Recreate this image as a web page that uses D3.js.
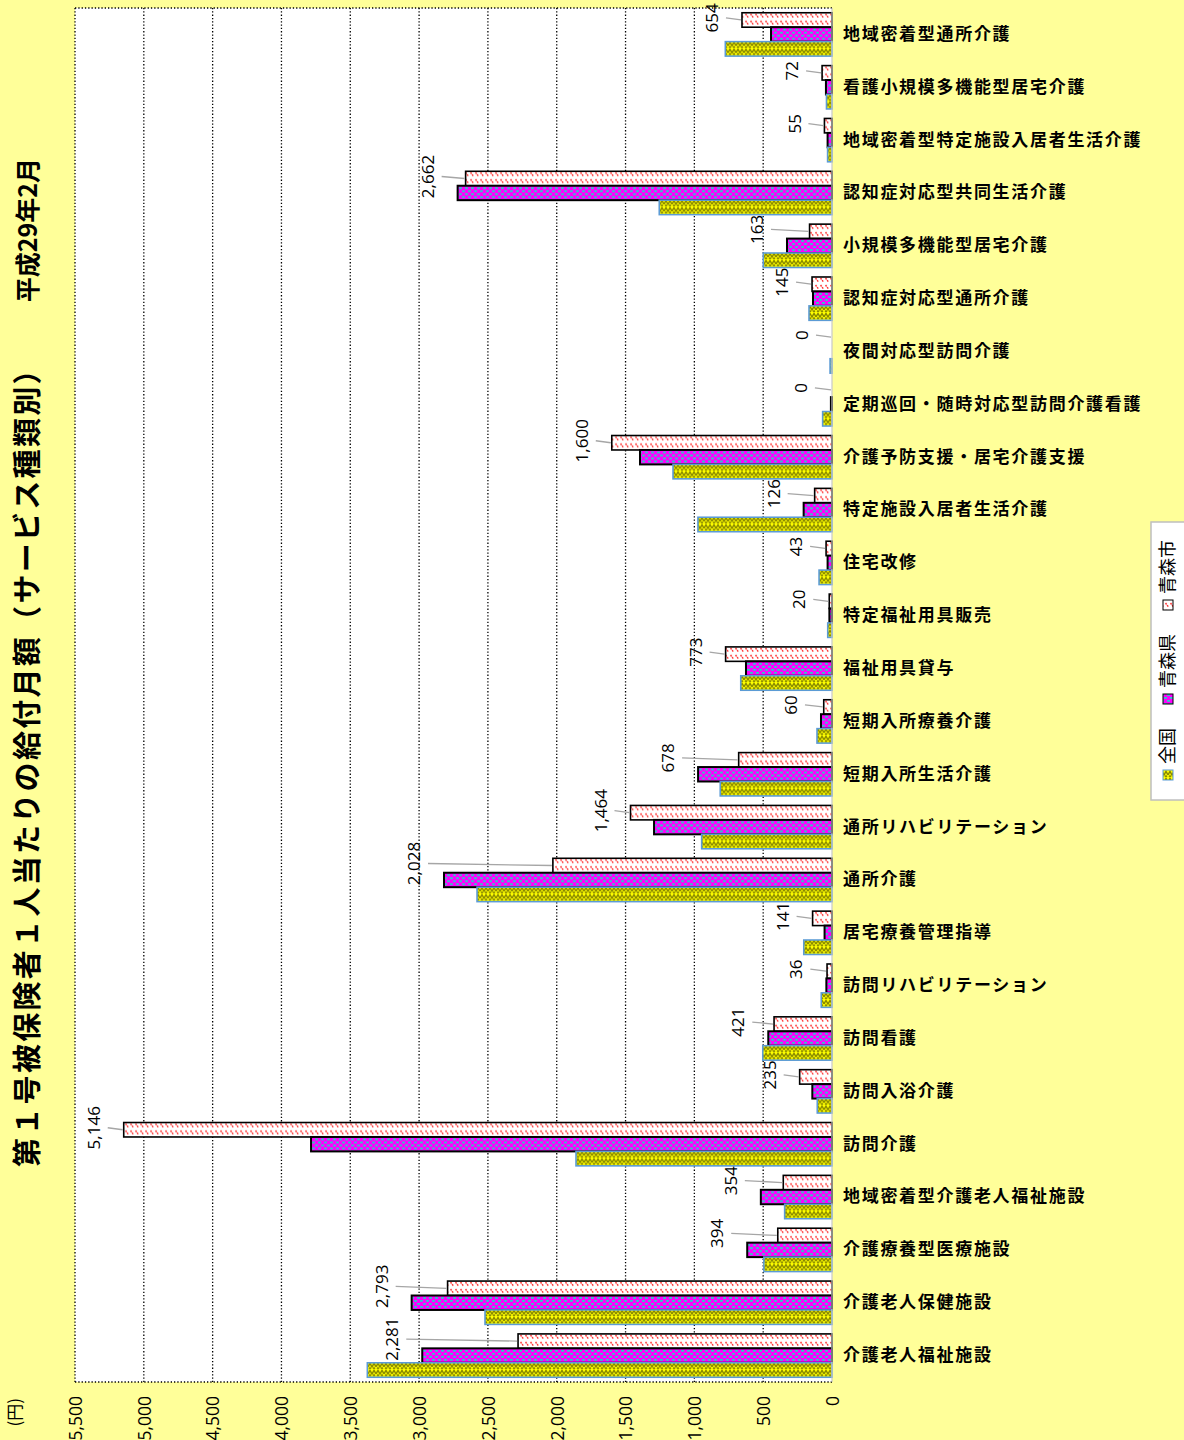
<!DOCTYPE html>
<html>
<head>
<meta charset="utf-8">
<script src="https://cdn.jsdelivr.net/npm/d3@7"></script>
<style>
  body { margin: 0; background: #FFFF99; }
  svg { display: block; }
</style>
</head>
<body>
<script>
const width = 1184;
const height = 1440;

// categories, bottom -> top as drawn
const categories = ["介護老人福祉施設","介護老人保健施設","介護療養型医療施設","地域密着型介護老人福祉施設",
  "訪問介護","訪問入浴介護","訪問看護","訪問リハビリテーション","居宅療養管理指導","通所介護",
  "通所リハビリテーション","短期入所生活介護","短期入所療養介護","福祉用具貸与","特定福祉用具販売",
  "住宅改修","特定施設入居者生活介護","介護予防支援・居宅介護支援","定期巡回・随時対応型訪問介護看護",
  "夜間対応型訪問介護","認知症対応型通所介護","小規模多機能型居宅介護","認知症対応型共同生活介護",
  "地域密着型特定施設入居者生活介護","看護小規模多機能型居宅介護","地域密着型通所介護"];

const seriesNames = ["青森市","青森県","全国"];
const aomoriCity = [2281,2793,394,354,5146,235,421,36,141,2028,1464,678,60,773,20,43,126,1600,0,0,145,163,2662,55,72,654];
const aomoriPref = [2977,3054,616,517,3785,143,463,41,54,2819,1293,973,80,625,19,32,206,1395,8,0,138,327,2720,32,44,443];
const national   = [3376,2521,495,344,1860,107,503,78,205,2579,947,812,109,663,31,94,974,1155,68,14,167,499,1255,32,40,775];
const tickValues = [0,500,1000,1500,2000,2500,3000,3500,4000,4500,5000,5500];

const titleText = "第１号被保険者１人当たりの給付月額（サービス種類別）";
const dateText = "平成29年2月";
const unitText = "(円)";

const plot = {left: 75, right: 832, top: 8, bottom: 1382};
const jp = "'Noto Sans CJK JP', 'Noto Sans', sans-serif";
const num = "'Open Sans', 'Noto Sans', sans-serif";

const svg = d3.select("body").append("svg").attr("width", width).attr("height", height);
svg.append("rect").attr("width", width).attr("height", height).attr("fill", "#FFFF99");

// patterns
const defs = svg.append("defs");
const pc = defs.append("pattern").attr("id", "patCity").attr("patternUnits", "userSpaceOnUse")
  .attr("width", 5).attr("height", 7);
pc.append("rect").attr("width", 5).attr("height", 7).attr("fill", "#fff");
pc.append("path").attr("d", "M0.5,1 L3.5,5").attr("stroke", "#ff3030").attr("stroke-width", 1.5)
  .attr("stroke-dasharray", "1.8,0.9");

const pp = defs.append("pattern").attr("id", "patPref").attr("patternUnits", "userSpaceOnUse")
  .attr("width", 6).attr("height", 6);
pp.append("rect").attr("width", 6).attr("height", 6).attr("fill", "#FF00FF");
pp.append("rect").attr("x", 0).attr("y", 1).attr("width", 3).attr("height", 1.8).attr("fill", "#2EC8C8");
pp.append("rect").attr("x", 3).attr("y", 4).attr("width", 3).attr("height", 1.8).attr("fill", "#2EC8C8");

const pn = defs.append("pattern").attr("id", "patNat").attr("patternUnits", "userSpaceOnUse")
  .attr("width", 8).attr("height", 7);
pn.append("rect").attr("width", 8).attr("height", 7).attr("fill", "#FFFF00");
pn.append("path").attr("d", "M0,5 L2,1.5 L4,5 L6,1.5 L8,5").attr("fill", "none")
  .attr("stroke", "#858500").attr("stroke-width", 1.4);
pn.append("path").attr("d", "M1,7 L2,5.5 L3,7 M5,7 L6,5.5 L7,7").attr("fill", "none")
  .attr("stroke", "#858500").attr("stroke-width", 1.1);

const fills = {"青森市": "url(#patCity)", "青森県": "url(#patPref)", "全国": "url(#patNat)"};
const strokes = {"青森市": "#000", "青森県": "#000", "全国": "#5B9BD5"};
const strokeW = {"青森市": 1.6, "青森県": 2, "全国": 1.6};
const valuesBy = {"青森市": aomoriCity, "青森県": aomoriPref, "全国": national};

// scales
const x = d3.scaleLinear().domain([0, 5500]).range([plot.right, plot.left]);
const y = d3.scaleBand().domain(categories).range([plot.bottom, plot.top])
  .paddingInner(0.18).paddingOuter(0.09);
const ys = d3.scaleBand().domain(seriesNames).range([0, y.bandwidth()]);

// plot area
svg.append("rect").attr("x", plot.left).attr("y", plot.top)
  .attr("width", plot.right - plot.left).attr("height", plot.bottom - plot.top).attr("fill", "#fff");

// grid lines
svg.append("g").selectAll("line").data(tickValues.filter(d => d > 0)).join("line")
  .attr("x1", d => x(d)).attr("x2", d => x(d))
  .attr("y1", plot.top).attr("y2", plot.bottom)
  .attr("stroke", "#000").attr("stroke-width", 1.3).attr("stroke-dasharray", "1.3,2");
[[plot.left, plot.top, plot.right, plot.top], [plot.left, plot.bottom, plot.right, plot.bottom]].forEach(l => {
  svg.append("line").attr("x1", l[0]).attr("y1", l[1]).attr("x2", l[2]).attr("y2", l[3])
    .attr("stroke", "#000").attr("stroke-width", 1.3).attr("stroke-dasharray", "1.3,2");
});

// bars
const groups = svg.append("g").selectAll("g").data(categories).join("g")
  .attr("transform", d => `translate(0,${y(d)})`);
seriesNames.forEach(s => {
  groups.append("rect")
    .attr("x", (d, i) => x(valuesBy[s][i]))
    .attr("y", ys(s))
    .attr("width", (d, i) => plot.right - x(valuesBy[s][i]))
    .attr("height", ys.bandwidth())
    .attr("fill", fills[s]).attr("stroke", strokes[s]).attr("stroke-width", strokeW[s])
    .attr("display", (d, i) => valuesBy[s][i] > 0 ? null : "none");
});

// right axis line
svg.append("line").attr("x1", plot.right).attr("x2", plot.right).attr("y1", plot.top).attr("y2", plot.bottom)
  .attr("stroke", "#c8c8c8").attr("stroke-width", 1.2);

// data labels for 青森市, kept clear of the 青森県 bar below
const cy = ys("青森市") + ys.bandwidth() / 2;
const labelX = i => Math.min(x(aomoriCity[i]), x(aomoriPref[i])) - 30;
groups.append("line")
  .attr("x1", (d, i) => x(aomoriCity[i]) - 1).attr("y1", cy)
  .attr("x2", (d, i) => labelX(i) + 14).attr("y2", cy - 2)
  .attr("stroke", "#a6a6a6").attr("stroke-width", 1.3);
groups.append("text")
  .attr("transform", (d, i) => `translate(${labelX(i)},${cy - 2}) rotate(-90)`)
  .attr("text-anchor", "middle").attr("dy", "0.36em")
  .attr("font-family", num).attr("font-size", 17).attr("fill", "#000")
  .text((d, i) => d3.format(",")(aomoriCity[i]));

// category axis
const yAxis = svg.append("g").attr("transform", `translate(${plot.right},0)`)
  .call(d3.axisRight(y).tickSize(0).tickPadding(11));
yAxis.select(".domain").remove();
yAxis.selectAll("text").attr("font-family", jp).attr("font-size", 17).attr("font-weight", "bold")
  .attr("letter-spacing", 1.7).attr("fill", "#000");

// value axis
const xAxis = svg.append("g").attr("transform", `translate(0,1396)`)
  .call(d3.axisBottom(x).tickValues(tickValues).tickFormat(d3.format(",")).tickSize(0));
xAxis.select(".domain").remove();
xAxis.selectAll("text").attr("x", 0).attr("y", 0).attr("dy", "0.36em")
  .attr("transform", "rotate(-90)").attr("text-anchor", "end")
  .attr("font-family", num).attr("font-size", 17.5).attr("fill", "#000");

svg.append("text").attr("transform", "translate(15,1398) rotate(-90)")
  .attr("text-anchor", "end").attr("dy", "0.36em")
  .attr("font-family", jp).attr("font-size", 17).text(unitText);

// title
svg.append("text").attr("transform", "translate(28,1167) rotate(-90)")
  .attr("text-anchor", "start").attr("dy", "0.36em")
  .attr("font-family", jp).attr("font-size", 29).attr("font-weight", "bold").attr("letter-spacing", 2.3)
  .text(titleText);
svg.append("text").attr("transform", "translate(28,158) rotate(-90)")
  .attr("text-anchor", "end").attr("dy", "0.36em")
  .attr("font-family", jp).attr("font-size", 25).attr("font-weight", "bold")
  .text(dateText);

// legend
svg.append("rect").attr("x", 1151).attr("y", 522).attr("width", 45).attr("height", 278)
  .attr("fill", "#fff").attr("stroke", "#bfbfbf").attr("stroke-width", 1.5);
const legendOrder = ["全国", "青森県", "青森市"];
let ly = 780;
legendOrder.forEach(s => {
  svg.append("rect").attr("x", 1163).attr("y", ly - 10).attr("width", 10).attr("height", 10)
    .attr("fill", fills[s]).attr("stroke", strokes[s]).attr("stroke-width", 1);
  svg.append("text").attr("transform", `translate(1168,${ly - 16}) rotate(-90)`)
    .attr("text-anchor", "start").attr("dy", "0.36em")
    .attr("font-family", jp).attr("font-size", 18).text(s);
  ly = ly - 16 - s.length * 18 - 24;
});
</script>
</body>
</html>
